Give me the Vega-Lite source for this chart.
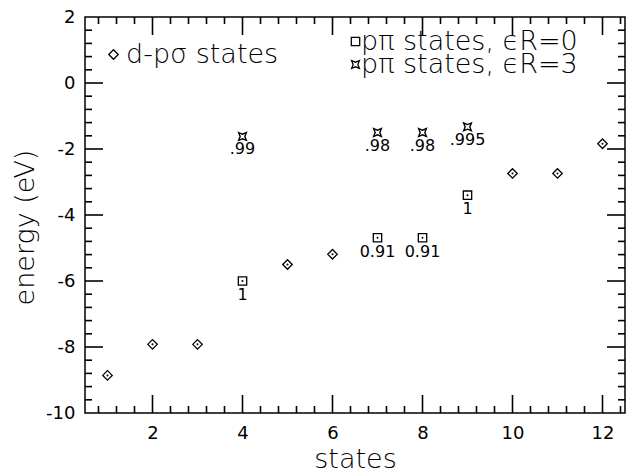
{
  "$schema": "https://vega.github.io/schema/vega-lite/v6.json",
  "width": 540,
  "height": 396,
  "autosize": {"type": "none"},
  "padding": {"left": 85, "top": 17, "right": 1, "bottom": 60},
  "background": "white",
  "config": {
    "view": {"stroke": "black", "strokeWidth": 1.5},
    "font": "DejaVu Sans",
    "axis": {
      "labelColor": "black",
      "titleColor": "black",
      "labelFont": "DejaVu Sans",
      "labelFontSize": 18,
      "labelFontWeight": "normal",
      "titleFont": "DejaVu Sans",
      "titleFontSize": 27,
      "titleFontWeight": 200
    },
    "legend": {
      "labelFont": "DejaVu Sans",
      "labelFontSize": 27,
      "labelFontWeight": 200,
      "labelColor": "black",
      "labelLimit": 500,
      "symbolStrokeColor": "black",
      "symbolStrokeWidth": 1.3,
      "title": null
    }
  },
  "datasets": {
    "dp": [
      {"state": 1, "energy": -8.86, "series": "d-pσ states"},
      {"state": 2, "energy": -7.92, "series": "d-pσ states"},
      {"state": 3, "energy": -7.92, "series": "d-pσ states"},
      {"state": 5, "energy": -5.5, "series": "d-pσ states"},
      {"state": 6, "energy": -5.19, "series": "d-pσ states"},
      {"state": 10, "energy": -2.74, "series": "d-pσ states"},
      {"state": 11, "energy": -2.74, "series": "d-pσ states"},
      {"state": 12, "energy": -1.84, "series": "d-pσ states"}
    ],
    "pi0": [
      {"state": 4, "energy": -6.0, "label": "1", "series": "pπ states, ϵR=0"},
      {"state": 7, "energy": -4.69, "label": "0.91", "series": "pπ states, ϵR=0"},
      {"state": 8, "energy": -4.69, "label": "0.91", "series": "pπ states, ϵR=0"},
      {"state": 9, "energy": -3.4, "label": "1", "series": "pπ states, ϵR=0"}
    ],
    "pi3": [
      {"state": 4, "energy": -1.62, "label": ".99", "series": "pπ states, ϵR=3"},
      {"state": 7, "energy": -1.5, "label": ".98", "series": "pπ states, ϵR=3"},
      {"state": 8, "energy": -1.5, "label": ".98", "series": "pπ states, ϵR=3"},
      {"state": 9, "energy": -1.33, "label": ".995", "series": "pπ states, ϵR=3"}
    ],
    "xmajor": [{"v": 2}, {"v": 4}, {"v": 6}, {"v": 8}, {"v": 10}, {"v": 12}],
    "xminor": [
      {"v": 0.8}, {"v": 1.2}, {"v": 1.6}, {"v": 2.4}, {"v": 2.8}, {"v": 3.2}, {"v": 3.6},
      {"v": 4.4}, {"v": 4.8}, {"v": 5.2}, {"v": 5.6}, {"v": 6.4}, {"v": 6.8}, {"v": 7.2}, {"v": 7.6},
      {"v": 8.4}, {"v": 8.8}, {"v": 9.2}, {"v": 9.6}, {"v": 10.4}, {"v": 10.8}, {"v": 11.2}, {"v": 11.6}, {"v": 12.4}
    ],
    "ymajor": [{"v": -8}, {"v": -6}, {"v": -4}, {"v": -2}, {"v": 0}],
    "yminor": [
      {"v": -9.6}, {"v": -9.2}, {"v": -8.8}, {"v": -8.4}, {"v": -7.6}, {"v": -7.2}, {"v": -6.8}, {"v": -6.4},
      {"v": -5.6}, {"v": -5.2}, {"v": -4.8}, {"v": -4.4}, {"v": -3.6}, {"v": -3.2}, {"v": -2.8}, {"v": -2.4},
      {"v": -1.6}, {"v": -1.2}, {"v": -0.8}, {"v": -0.4}, {"v": 0.4}, {"v": 0.8}, {"v": 1.2}, {"v": 1.6}
    ]
  },
  "resolve": {
    "axis": {"x": "independent", "y": "independent"},
    "scale": {"shape": "independent"}
  },
  "layer": [
    {
      "data": {"name": "dp"},
      "mark": {"type": "point", "filled": false, "color": "black", "strokeWidth": 1.3, "size": 90, "opacity": 1},
      "encoding": {
        "x": {
          "field": "state", "type": "quantitative",
          "scale": {"domain": [0.5, 12.5], "nice": false, "zero": false},
          "axis": {
            "orient": "bottom", "values": [2, 4, 6, 8, 10, 12],
            "domain": false, "ticks": false, "tickSize": 0, "grid": false,
            "labelPadding": 11, "labelOverlap": false, "labelFlush": false,
            "title": "states", "titleX": 270, "titleY": 54,
            "titleAlign": "center", "titleBaseline": "alphabetic"
          }
        },
        "y": {
          "field": "energy", "type": "quantitative",
          "scale": {"domain": [-10, 2], "nice": false, "zero": false},
          "axis": {
            "orient": "left", "values": [-10, -8, -6, -4, -2, 0, 2],
            "domain": false, "ticks": false, "tickSize": 0, "grid": false,
            "labelPadding": 10, "labelOverlap": false, "labelExpr": "replace(datum.label, '−', '-')",
            "title": "energy (eV)", "titleX": -52, "titleY": 210, "titleAngle": -90,
            "titleAlign": "center", "titleBaseline": "alphabetic"
          }
        },
        "shape": {
          "field": "series", "type": "nominal",
          "scale": {"domain": ["d-pσ states"], "range": ["diamond"]},
          "legend": {"orient": "none", "legendX": 15, "legendY": 24, "symbolSize": 90, "labelOffset": -1}
        }
      }
    },
    {
      "data": {"name": "pi0"},
      "mark": {"type": "point", "filled": false, "color": "black", "strokeWidth": 1.3, "size": 70, "opacity": 1},
      "encoding": {
        "x": {"field": "state", "type": "quantitative", "axis": null},
        "y": {"field": "energy", "type": "quantitative", "axis": null},
        "shape": {
          "field": "series", "type": "nominal",
          "scale": {"domain": ["pπ states, ϵR=0"], "range": ["square"]},
          "legend": {"orient": "none", "legendX": 257, "legendY": 11, "symbolSize": 70, "labelOffset": -8}
        }
      }
    },
    {
      "data": {"name": "pi3"},
      "mark": {"type": "point", "filled": false, "color": "black", "strokeWidth": 1.4, "size": 60, "opacity": 1},
      "encoding": {
        "x": {"field": "state", "type": "quantitative", "axis": null},
        "y": {"field": "energy", "type": "quantitative", "axis": null},
        "shape": {
          "field": "series", "type": "nominal",
          "scale": {"domain": ["pπ states, ϵR=3"], "range": ["M-1,-1L0,-0.6L1,-1L0.6,0L1,1L0,0.6L-1,1L-0.6,0Z"]},
          "legend": {"orient": "none", "legendX": 257, "legendY": 34, "symbolSize": 60, "labelOffset": -8}
        }
      }
    },
    {
      "data": {"name": "dp"},
      "mark": {"type": "point", "filled": true, "color": "black", "size": 4, "opacity": 1},
      "encoding": {
        "x": {"field": "state", "type": "quantitative", "axis": null},
        "y": {"field": "energy", "type": "quantitative", "axis": null}
      }
    },
    {
      "data": {"name": "pi0"},
      "mark": {"type": "point", "filled": true, "color": "black", "size": 4, "opacity": 1},
      "encoding": {
        "x": {"field": "state", "type": "quantitative", "axis": null},
        "y": {"field": "energy", "type": "quantitative", "axis": null}
      }
    },
    {
      "data": {"name": "pi0"},
      "mark": {"type": "text", "font": "DejaVu Sans", "fontSize": 16, "fontWeight": "normal", "color": "black", "align": "center", "baseline": "middle", "dy": 14},
      "encoding": {
        "x": {"field": "state", "type": "quantitative", "axis": null},
        "y": {"field": "energy", "type": "quantitative", "axis": null},
        "text": {"field": "label"}
      }
    },
    {
      "data": {"name": "pi3"},
      "mark": {"type": "text", "font": "DejaVu Sans", "fontSize": 16, "fontWeight": "normal", "color": "black", "align": "center", "baseline": "middle", "dy": 13},
      "encoding": {
        "x": {"field": "state", "type": "quantitative", "axis": null},
        "y": {"field": "energy", "type": "quantitative", "axis": null},
        "text": {"field": "label"}
      }
    },
    {
      "data": {"name": "xmajor"},
      "mark": {"type": "rule", "color": "black", "strokeWidth": 1.6},
      "encoding": {
        "x": {"field": "v", "type": "quantitative", "axis": null},
        "y": {"datum": -10, "axis": null},
        "y2": {"datum": -9.4545}
      }
    },
    {
      "data": {"name": "xmajor"},
      "mark": {"type": "rule", "color": "black", "strokeWidth": 1.6},
      "encoding": {
        "x": {"field": "v", "type": "quantitative", "axis": null},
        "y": {"datum": 2, "axis": null},
        "y2": {"datum": 1.4545}
      }
    },
    {
      "data": {"name": "xminor"},
      "mark": {"type": "rule", "color": "black", "strokeWidth": 1.6},
      "encoding": {
        "x": {"field": "v", "type": "quantitative", "axis": null},
        "y": {"datum": -10, "axis": null},
        "y2": {"datum": -9.788}
      }
    },
    {
      "data": {"name": "xminor"},
      "mark": {"type": "rule", "color": "black", "strokeWidth": 1.6},
      "encoding": {
        "x": {"field": "v", "type": "quantitative", "axis": null},
        "y": {"datum": 2, "axis": null},
        "y2": {"datum": 1.788}
      }
    },
    {
      "data": {"name": "ymajor"},
      "mark": {"type": "rule", "color": "black", "strokeWidth": 1.6},
      "encoding": {
        "y": {"field": "v", "type": "quantitative", "axis": null},
        "x": {"datum": 0.5, "axis": null},
        "x2": {"datum": 0.9}
      }
    },
    {
      "data": {"name": "ymajor"},
      "mark": {"type": "rule", "color": "black", "strokeWidth": 1.6},
      "encoding": {
        "y": {"field": "v", "type": "quantitative", "axis": null},
        "x": {"datum": 12.5, "axis": null},
        "x2": {"datum": 12.1}
      }
    },
    {
      "data": {"name": "yminor"},
      "mark": {"type": "rule", "color": "black", "strokeWidth": 1.6},
      "encoding": {
        "y": {"field": "v", "type": "quantitative", "axis": null},
        "x": {"datum": 0.5, "axis": null},
        "x2": {"datum": 0.6556}
      }
    },
    {
      "data": {"name": "yminor"},
      "mark": {"type": "rule", "color": "black", "strokeWidth": 1.6},
      "encoding": {
        "y": {"field": "v", "type": "quantitative", "axis": null},
        "x": {"datum": 12.5, "axis": null},
        "x2": {"datum": 12.3444}
      }
    },
    {
      "mark": {"type": "rule", "color": "black", "strokeWidth": 1.5},
      "encoding": {"y": {"datum": 0, "axis": null}}
    }
  ]
}
